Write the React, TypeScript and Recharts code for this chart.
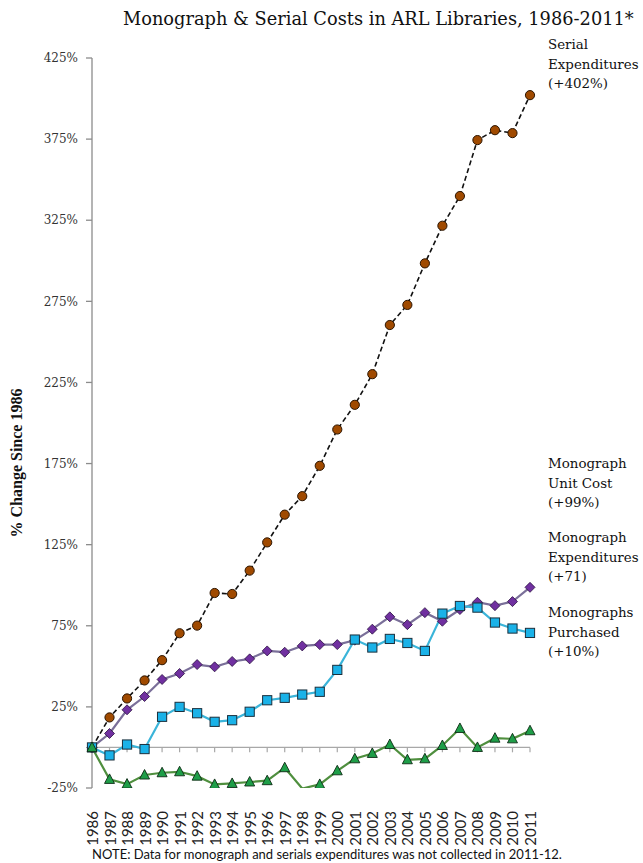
import React from 'react';
import { LineChart, Line, XAxis, YAxis, ReferenceLine } from 'recharts';

const years = [1986, 1987, 1988, 1989, 1990, 1991, 1992, 1993, 1994, 1995, 1996, 1997, 1998, 1999, 2000, 2001, 2002, 2003, 2004, 2005, 2006, 2007, 2008, 2009, 2010, 2011];
const serialExpenditures = [0, 18.5, 30.2, 41.3, 53.8, 70.4, 75.1, 95.2, 94.6, 109.0, 126.4, 143.5, 154.9, 173.6, 196.0, 211.2, 230.1, 260.4, 272.8, 298.4, 321.6, 339.9, 374.4, 380.5, 378.7, 402.1];
const monographUnitCost = [0, 8.6, 23.2, 31.4, 41.9, 45.6, 51.1, 49.7, 53.0, 54.6, 59.5, 58.7, 62.6, 63.4, 63.4, 66.1, 72.9, 80.5, 75.7, 83.1, 77.8, 85.0, 89.5, 87.4, 89.9, 98.7];
const monographExpenditures = [0, -4.9, 1.8, -1.0, 18.9, 25.0, 21.1, 15.8, 16.8, 22.0, 29.1, 30.6, 32.6, 34.3, 47.8, 66.5, 61.6, 66.9, 64.4, 59.5, 82.5, 87.2, 86.2, 77.0, 73.3, 70.6];
const monographsPurchased = [0, -19.7, -22.6, -17.0, -15.6, -15.0, -17.7, -22.8, -22.2, -21.3, -20.5, -12.5, -25.3, -22.8, -14.4, -7.0, -3.7, 1.8, -7.6, -7.0, 1.2, 11.7, 0, 5.7, 5.3, 10.3];
const yTicks = [-25, 25, 75, 125, 175, 225, 275, 325, 375, 425];

const data = years.map((year, i) => ({
  year,
  serial: serialExpenditures[i],
  unit: monographUnitCost[i],
  exp: monographExpenditures[i],
  purch: monographsPurchased[i],
}));

const CircleDot = (p: any) => {
  if (p.cx == null || p.cy == null) return <g key={p.index} />;
  return <circle key={p.index} cx={p.cx} cy={p.cy} r={4.6} fill="#a04a00" stroke="#2b1400" strokeWidth={1} />;
};
const DiamondDot = (p: any) => {
  if (p.cx == null || p.cy == null) return <g key={p.index} />;
  const s = 5;
  return <polygon key={p.index} points={`${p.cx},${p.cy - s} ${p.cx + s},${p.cy} ${p.cx},${p.cy + s} ${p.cx - s},${p.cy}`} fill="#7030a0" stroke="#2a1040" strokeWidth={0.8} />;
};
const SquareDot = (p: any) => {
  if (p.cx == null || p.cy == null) return <g key={p.index} />;
  const s = 4.6;
  return <rect key={p.index} x={p.cx - s} y={p.cy - s} width={2 * s} height={2 * s} fill="#1ab2e8" stroke="#1b2f3c" strokeWidth={1} />;
};
const TriangleDot = (p: any) => {
  if (p.cx == null || p.cy == null || (p.value != null && p.value < -25)) return <g key={p.index} />;
  const s = 5;
  return <polygon key={p.index} points={`${p.cx},${p.cy - s - 0.5} ${p.cx + s},${p.cy + s - 1} ${p.cx - s},${p.cy + s - 1}`} fill="#1e9e48" stroke="#0d2a14" strokeWidth={0.9} />;
};

const YearTick = (p: any) => {
  const { x, y, payload } = p;
  return (
    <text x={x} y={y + 15} transform={`rotate(-90 ${x} ${y + 15})`} textAnchor="end" dominantBaseline="central" fontFamily="Lato, 'Open Sans', sans-serif" fontSize={15} fill="#222">
      {payload.value}
    </text>
  );
};

const rightLabel = (lines: string[], y0: number) =>
  lines.map((t, i) => (
    <text key={t + i} x={548} y={y0 + i * 19.5} fontFamily="'DejaVu Serif', serif" fontSize={13.4} fill="#111">
      {t}
    </text>
  ));

export default function App() {
  return (
    <div style={{ position: 'absolute', left: 0, top: 0, width: 643, height: 863, background: '#fff' }}>
      <LineChart width={643} height={863} data={data} margin={{ top: 58, right: 113, bottom: 0, left: 0 }}>
        <XAxis dataKey="year" type="category" interval={0} axisLine={false} tickLine={false} height={75} tick={<YearTick />} />
        <YAxis
          type="number"
          domain={[-25, 425]}
          ticks={yTicks}
          allowDataOverflow
          width={92}
          tickSize={6}
          tickMargin={8}
          axisLine={{ stroke: '#8c8c8c', strokeWidth: 1.3 }}
          tickLine={{ stroke: '#8c8c8c', strokeWidth: 1.3 }}
          tick={{ fontFamily: "'DejaVu Serif', serif", fontSize: 12, fill: '#333' }}
          tickFormatter={(v: number) => `${v}%`}
        />
        <ReferenceLine y={0} stroke="#a8a8a8" strokeWidth={1.3} />
        {years.map((yr) => (
          <ReferenceLine key={'t' + yr} segment={[{ x: yr, y: 0 }, { x: yr, y: -3 }]} stroke="#a8a8a8" strokeWidth={1.2} />
        ))}
        <Line dataKey="serial" stroke="#111" strokeWidth={1.6} strokeDasharray="5 3" dot={CircleDot} isAnimationActive={false} />
        <Line dataKey="unit" stroke="#7a6f99" strokeWidth={2.2} dot={DiamondDot} isAnimationActive={false} />
        <Line dataKey="exp" stroke="#3ab4d9" strokeWidth={2.2} dot={SquareDot} isAnimationActive={false} />
        <Line dataKey="purch" stroke="#4f8f3e" strokeWidth={2.2} dot={TriangleDot} isAnimationActive={false} />
      </LineChart>
      <svg width={643} height={863} style={{ position: 'absolute', left: 0, top: 0, pointerEvents: 'none' }}>
        <text x={123} y={25} fontFamily="'DejaVu Serif', serif" fontSize={17.8} fill="#111">
          Monograph &amp; Serial Costs in ARL Libraries, 1986-2011*
        </text>
        <text x={22} y={463} transform="rotate(-90 22 463)" textAnchor="middle" fontFamily="'Liberation Serif', serif" fontWeight="bold" fontSize={16} fill="#111">
          % Change Since 1986
        </text>
        {rightLabel(['Serial', 'Expenditures', '(+402%)'], 49)}
        {rightLabel(['Monograph', 'Unit Cost', '(+99%)'], 468)}
        {rightLabel(['Monograph', 'Expenditures', '(+71)'], 542)}
        {rightLabel(['Monographs', 'Purchased', '(+10%)'], 617)}
        <text x={327} y={859} textAnchor="middle" fontFamily="Lato, 'Open Sans', sans-serif" fontSize={13} fill="#111">
          NOTE: Data for monograph and serials expenditures was not collected in 2011-12.
        </text>
      </svg>
    </div>
  );
}
